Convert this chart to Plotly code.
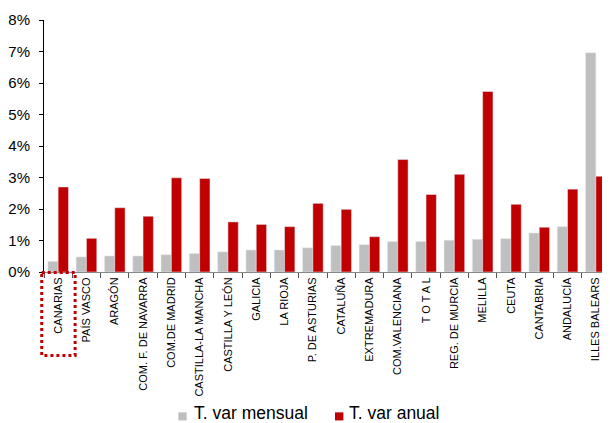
import plotly.graph_objects as go

categories = ["CANARIAS", "PAÍS VASCO", "ARAGÓN", "COM. F. DE NAVARRA", "COM.DE MADRID",
              "CASTILLA-LA MANCHA", "CASTILLA Y LEÓN", "GALICIA", "LA RIOJA", "P. DE ASTURIAS",
              "CATALUÑA", "EXTREMADURA", "COM.VALENCIANA", "T O T A L", "REG. DE MURCIA",
              "MELILLA", "CEUTA", "CANTABRIA", "ANDALUCÍA", "ILLES BALEARS"]
mensual = [0.34, 0.48, 0.51, 0.51, 0.55, 0.59, 0.64, 0.70, 0.70, 0.77,
           0.84, 0.87, 0.97, 0.97, 1.01, 1.04, 1.06, 1.24, 1.44, 6.96]
anual = [2.70, 1.07, 2.04, 1.77, 2.99, 2.97, 1.59, 1.51, 1.44, 2.18,
         1.99, 1.12, 3.57, 2.46, 3.10, 5.73, 2.15, 1.42, 2.63, 3.04]
y_ticks = [0, 1, 2, 3, 4, 5, 6, 7, 8]
y_tick_labels = [f"{v}%" for v in y_ticks]
series_names = ["T. var mensual", "T. var anual"]
series_colors = ["#BFBFBF", "#C00000"]

fig = go.Figure()
fig.add_bar(x=categories, y=mensual, name=series_names[0], marker_color=series_colors[0],
            showlegend=False)
fig.add_bar(x=categories, y=anual, name=series_names[1], marker_color=series_colors[1],
            showlegend=False)

# page body has an 8px margin, so the figure is 8px smaller than the window
fig.update_layout(
    width=602, height=415,
    margin=dict(l=36, r=0, t=12, b=151),
    plot_bgcolor="white", paper_bgcolor="white",
    barmode="group", bargap=0.27, bargroupgap=0,
    font=dict(family="Liberation Sans, Arial, sans-serif", color="#000000"),
    showlegend=False,
)
fig.update_xaxes(
    type="category", tickangle=-90, tickfont=dict(size=11),
    showline=True, linecolor="#888888", linewidth=1,
    ticks="outside", tickson="boundaries", ticklen=5, tickcolor="#555555",
    showgrid=False, range=[-0.5, len(categories) - 0.5],
)
fig.update_yaxes(
    range=[0, 8], tickvals=y_ticks, ticktext=y_tick_labels,
    tickfont=dict(size=15), showline=True, linecolor="#000000", linewidth=1,
    ticks="outside", ticklen=4, tickcolor="#000000", showgrid=False, zeroline=False,
    ticklabelstandoff=6,
)
# dotted highlight around the CANARIAS label
fig.add_shape(type="rect", xref="paper", yref="paper", x0=-0.004, x1=0.055, y0=-0.002, y1=-0.331,
              line=dict(color="#C00000", width=3, dash="dot"))

# legend drawn manually (tight symbol/text spacing as in reference)
legend_sq_x = [0.2373, 0.5141]
legend_txt_x = [0.261, 0.535]
for i in range(2):
    fig.add_shape(type="rect", xref="paper", yref="paper",
                  x0=legend_sq_x[i], x1=legend_sq_x[i] + 0.0148, y0=-0.557, y1=-0.589,
                  fillcolor=series_colors[i], line=dict(width=0))
    fig.add_annotation(xref="paper", yref="paper", x=legend_txt_x[i], y=-0.561,
                       xanchor="left", yanchor="middle", showarrow=False,
                       text=series_names[i], font=dict(size=17.5, color="#000000"))

fig.write_html("out.html")
